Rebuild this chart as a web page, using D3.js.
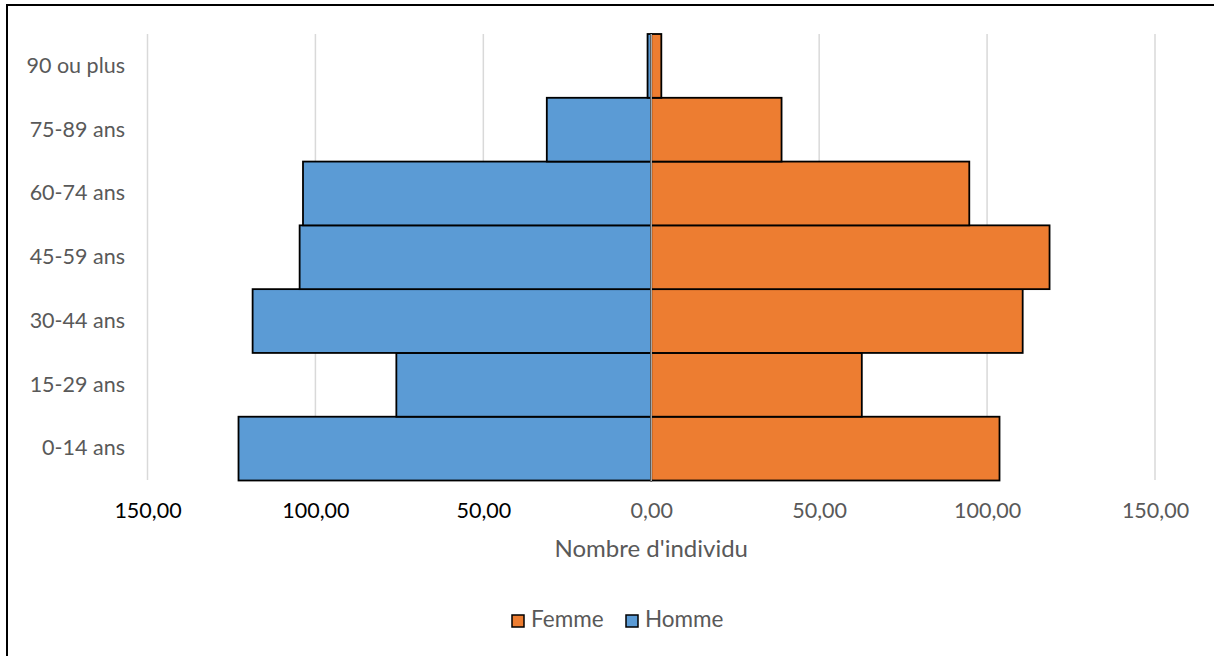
<!DOCTYPE html>
<html><head><meta charset="utf-8">
<script src="https://cdn.jsdelivr.net/npm/d3@7"></script>
<style>body{margin:0;background:#fff;} svg{display:block;}</style>
</head><body>
<svg id="c" width="1214" height="656"></svg>
<script>
const categories = ["0-14 ans","15-29 ans","30-44 ans","45-59 ans","60-74 ans","75-89 ans","90 ou plus"];
const homme = [122.9, 75.9, 118.7, 104.7, 103.7, 31.1, 1.1];
const femme = [103.7, 62.7, 110.6, 118.6, 94.7, 38.8, 3.0];
const tickValues = [-150,-100,-50,0,50,100,150];
const tickLabels = ["150,00","100,00","50,00","0,00","50,00","100,00","150,00"];
const seriesNames = ["Femme","Homme"];
const colors = {Femme:"#ED7D31", Homme:"#5B9BD5"};

const svg = d3.select("#c");
const font = "Lato, 'Open Sans', sans-serif";
svg.append("rect").attr("x",7).attr("y",5).attr("width",1220).attr("height",670)
  .attr("fill","#fff").attr("stroke","#000").attr("stroke-width",2);

const x = d3.scaleLinear().domain([-150,150]).range([147.5,1155]);
const y = d3.scaleBand().domain(categories.slice().reverse()).range([34,480.5]).padding(0);

// gridlines
svg.append("g").selectAll("line").data(tickValues.filter(v=>v!==0)).join("line")
  .attr("x1",d=>x(d)).attr("x2",d=>x(d)).attr("y1",34).attr("y2",480)
  .attr("stroke","#d9d9d9").attr("stroke-width",1.5);

// bars
const g = svg.append("g");
g.selectAll("rect.h").data(categories).join("rect").attr("class","h")
  .attr("x",(d,i)=>x(-homme[i])).attr("width",(d,i)=>x(0)-x(-homme[i]))
  .attr("y",d=>y(d)).attr("height",y.bandwidth())
  .attr("fill",colors.Homme).attr("stroke","#000").attr("stroke-width",1.8);
g.selectAll("rect.f").data(categories).join("rect").attr("class","f")
  .attr("x",x(0)).attr("width",(d,i)=>x(femme[i])-x(0))
  .attr("y",d=>y(d)).attr("height",y.bandwidth())
  .attr("fill",colors.Femme).attr("stroke","#000").attr("stroke-width",1.8);

// zero axis line
svg.append("line").attr("x1",x(0)).attr("x2",x(0)).attr("y1",34).attr("y2",481)
  .attr("stroke","#a6a6a6").attr("stroke-width",1.5);

// x axis tick labels
const xa = svg.append("g").attr("transform","translate(0,513)")
  .call(d3.axisBottom(x).tickValues(tickValues).tickSize(0).tickPadding(0)
    .tickFormat((d,i)=>tickLabels[i]));
xa.select(".domain").remove();
xa.selectAll("text").attr("font-family",font).attr("font-size",21.5)
  .attr("dy","0").attr("dominant-baseline","middle")
  .attr("fill",d=>d<0?"#000":"#595959");

// y axis labels
const ya = svg.append("g").attr("transform","translate(125,0)")
  .call(d3.axisLeft(y).tickSize(0).tickPadding(0));
ya.select(".domain").remove();
ya.selectAll("text").attr("font-family",font).attr("font-size",21.5).attr("fill","#595959");

// axis title
svg.append("text").attr("x",x(0)).attr("y",551).attr("text-anchor","middle")
  .attr("dominant-baseline","middle").attr("font-family",font).attr("font-size",24)
  .attr("fill","#595959").text("Nombre d'individu");

// legend
const legX = [512, 626];
const lg = svg.append("g").selectAll("g").data(seriesNames).join("g")
  .attr("transform",(d,i)=>`translate(${legX[i]},621)`);
lg.append("rect").attr("x",0).attr("y",-6).attr("width",12).attr("height",12)
  .attr("fill",d=>colors[d]).attr("stroke","#000").attr("stroke-width",1.5);
lg.append("text").attr("x",19).attr("y",0).attr("dominant-baseline","middle")
  .attr("font-family",font).attr("font-size",22.5).attr("fill","#595959").text(d=>d);
</script>
</body></html>
